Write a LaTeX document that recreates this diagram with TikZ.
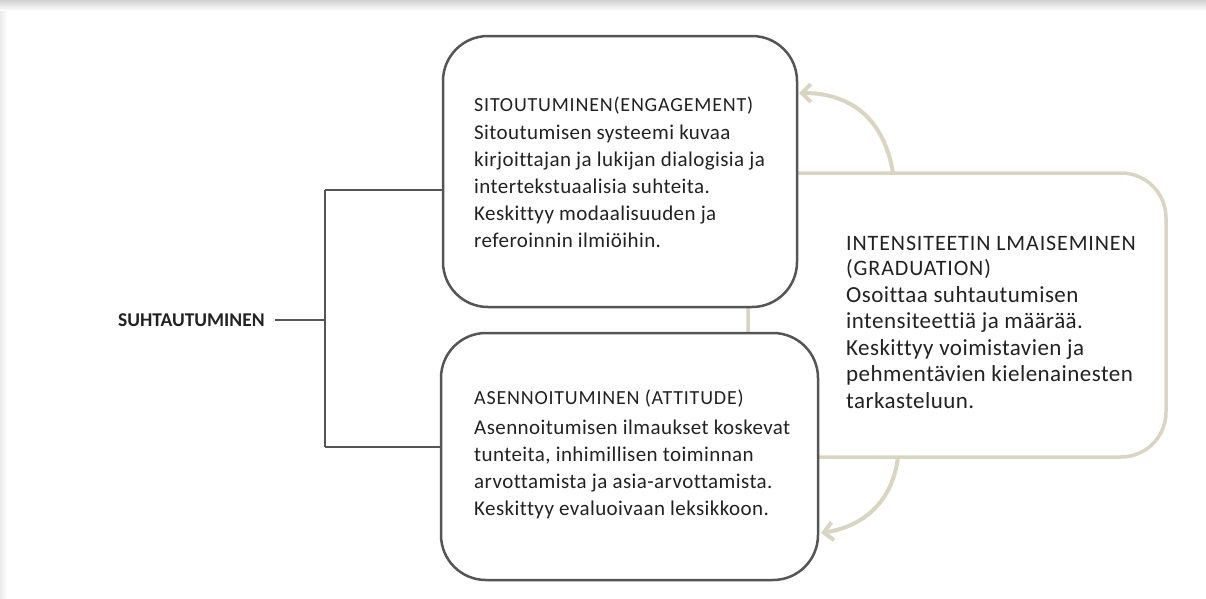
\documentclass[tikz,border=0pt]{standalone}
\usepackage{fontspec}
\setmainfont{Carlito}[Ligatures={NoCommon,NoRequired}]
\usetikzlibrary{arrows.meta,calc}
\definecolor{boxline}{HTML}{555555}
\definecolor{beige}{HTML}{D8D6C3}
\definecolor{txt}{HTML}{222222}
\tikzset{
  whitebox/.style={draw=boxline, line width=2.5pt, fill=white, rounded corners=45pt, inner sep=0pt},
  gradbox/.style={draw=beige, line width=3.5pt, fill=white, rounded corners=45pt, inner sep=0pt},
  bracket/.style={draw=boxline, line width=2.2pt},
  cyclearrow/.style={draw=beige, line width=4pt, -{Straight Barb[length=9pt,width=18pt,line width=4pt]}},
  titletext/.style={anchor=base west, inner sep=0pt, text=txt, font=\fontsize{20}{25}\selectfont\addfontfeature{LetterSpace=4}, align=left},
  bodytext/.style={anchor=base west, inner sep=0pt, text=txt, font=\fontsize{21}{27}\selectfont\addfontfeature{LetterSpace=2}, align=left},
}
\begin{document}
\begin{tikzpicture}[x=1pt,y=-1pt]
\useasboundingbox (0,0) rectangle (1206,598);
\fill[white] (0,0) rectangle (1206,598);
\shade[top color=black!18, bottom color=white] (0,0) rectangle (1206,11);
\shade[left color=black!8, right color=white] (0,11) rectangle (7,598);

% graduation box (behind)
\node[gradbox, minimum width=418pt, minimum height=284pt] (grad) at (957,315) {};

% top and bottom boxes
\node[whitebox, minimum width=354pt, minimum height=271pt] (eng) at (620,171.5) {};
\node[whitebox, minimum width=377pt, minimum height=247pt] (att) at (629.5,456.5) {};

% cycle arrows
\coordinate (gtop) at (893,173);
\coordinate (engin) at (799,93);
\coordinate (gbot) at (898,457);
\coordinate (attin) at (821,533);
\draw[cyclearrow] (gtop) .. controls (884,118) and (850,93) .. (engin);
\draw[cyclearrow] (gbot) .. controls (892,505) and (860,527) .. (attin);

% texts (multi-line nodes: base = last line)
\node[titletext] (engt) at (474,111) {SITOUTUMINEN(ENGAGEMENT)};
\node[bodytext] (engb) at (474,247) {Sitoutumisen systeemi kuvaa\\kirjoittajan ja lukijan dialogisia ja\\intertekstuaalisia suhteita.\\Keskittyy modaalisuuden ja\\referoinnin ilmiöihin.};

\node[titletext] (attt) at (474,404) {ASENNOITUMINEN (ATTITUDE)};
\node[bodytext] (attb) at (474,515) {Asennoitumisen ilmaukset koskevat\\tunteita, inhimillisen toiminnan\\arvottamista ja asia-arvottamista.\\Keskittyy evaluoivaan leksikkoon.};

\node[titletext, font=\fontsize{22}{25}\selectfont\addfontfeature{LetterSpace=4}] (gradt) at (846,275) {INTENSITEETIN LMAISEMINEN\\(GRADUATION)};
\node[bodytext, font=\fontsize{23}{26.5}\selectfont\addfontfeature{LetterSpace=2}] (gradb) at (846,408) {Osoittaa suhtautumisen\\intensiteettiä ja määrää.\\Keskittyy voimistavien ja\\pehmentävien kielenainesten\\tarkasteluun.};

% root label and bracket
\node[anchor=base west, inner sep=0pt, text=txt, font=\fontsize{19.5}{24}\selectfont\bfseries] (root) at (118,326) {SUHTAUTUMINEN};
\coordinate (jtop) at (325,190);
\coordinate (jbot) at (325,447);
\draw[bracket] ($(root.east)+(10,0)$) -- (jtop |- root.east);
\draw[bracket] (jtop) -- (jbot);
\draw[bracket] (jtop) -- (eng.west |- jtop);
\draw[bracket] (jbot) -- (att.west |- jbot);
\end{tikzpicture}
\end{document}
